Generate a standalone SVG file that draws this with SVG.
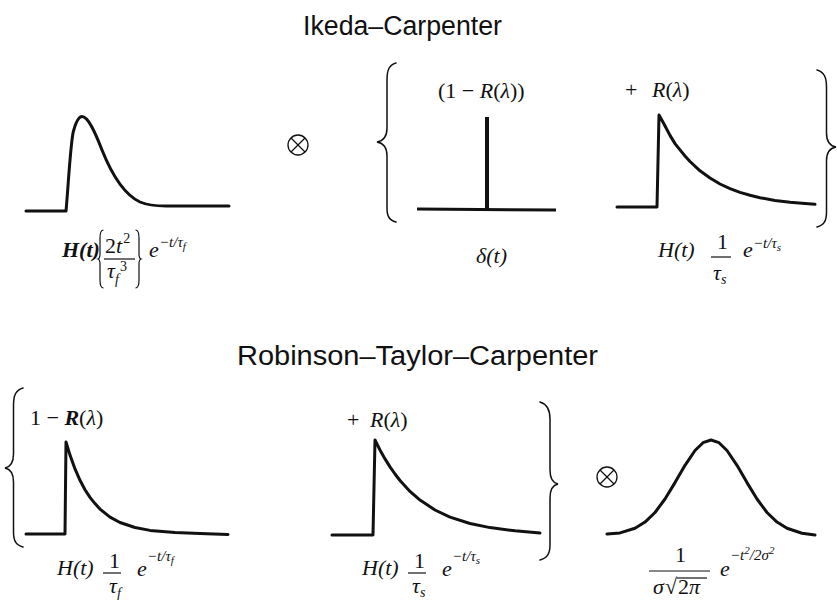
<svg xmlns="http://www.w3.org/2000/svg" width="837" height="600" viewBox="0 0 837 600">
<style>
.title{font-family:"Liberation Sans",Arial,sans-serif;font-size:27px;fill:#111}
.m{font-family:"Liberation Serif","Times New Roman",serif;font-size:22px;fill:#111}
.i{font-style:italic}
.b{font-weight:bold}
.s{font-size:15px}
.ss{font-size:11px}
.sub{font-size:14px}
.curve{fill:none;stroke:#111;stroke-width:3;stroke-linejoin:round;stroke-linecap:round}
.brace{fill:none;stroke:#111;stroke-width:1.5;stroke-linecap:round}
.thin{fill:none;stroke:#111;stroke-width:1.2}
.op{fill:none;stroke:#111;stroke-width:1.3}
</style>
<rect width="837" height="600" fill="#fff"/>

<text class="title" x="303" y="35" textLength="199" lengthAdjust="spacingAndGlyphs">Ikeda–Carpenter</text>
<text class="title" x="237" y="365" textLength="361" lengthAdjust="spacingAndGlyphs">Robinson–Taylor–Carpenter</text>

<g id="ic-fast">
<path class="curve" d="M26,211 L66,211 C68,190 70,150 73,133 C76,121 79,116.5 82,116.5 C88,116.5 95,132 102,150 C112,175 125,195 140,202 C148,205.5 156,206 166,206 L229,206"/>
<text class="m i b" x="62" y="257">H(t)</text>
<path class="thin" d="M103.5,230 C100.5,230 100,233 100,238 L100,254 C100,257 99.5,258.5 98,259 C99.5,259.5 100,261 100,264 L100,280 C100,285 100.5,288 103.5,288"/>
<path class="thin" d="M135.5,230 C138.5,230 139,233 139,238 L139,254 C139,257 139.5,258.5 141,259 C139.5,259.5 139,261 139,264 L139,280 C139,285 138.5,288 135.5,288"/>
<text class="m" x="105" y="253">2<tspan class="i">t</tspan><tspan class="sub" dx="1" dy="-10">2</tspan></text>
<line class="thin" x1="104" y1="259" x2="135" y2="259"/>
<text class="m i" x="107" y="278">τ<tspan class="sub" dy="6">f</tspan></text>
<text class="m sub" x="120" y="271">3</text>
<text class="m i" x="149" y="257">e</text>
<text class="m i s" x="159" y="247">−t/τ<tspan class="ss" dy="3">f</tspan></text>
</g>

<g id="op-top">
<circle class="op" cx="298" cy="145" r="10"/>
<line class="op" x1="291" y1="138" x2="305" y2="152"/>
<line class="op" x1="305" y1="138" x2="291" y2="152"/>
</g>

<g id="brace-top-left">
<path class="brace" d="M396,63 C389,65 387,70 387,80 L387,128 C387,137 383,141 377,142 C383,143 387,147 387,156 L387,208 C387,216 389,220 396,222"/>
</g>

<g id="ic-delta">
<text class="m" x="438" y="98" font-size="23">(1 − <tspan class="i">R</tspan>(<tspan class="i">λ</tspan>))</text>
<line x1="417" y1="209" x2="556" y2="210" stroke="#111" stroke-width="3"/>
<line x1="487" y1="117" x2="487" y2="209" stroke="#111" stroke-width="4"/>
<text class="m i" x="476" y="263" font-size="23">δ(t)</text>
</g>

<g id="ic-slow">
<text class="m" x="625" y="97" font-size="23">+</text>
<text class="m" x="652" y="97" font-size="23"><tspan class="i">R</tspan>(<tspan class="i">λ</tspan>)</text>
<polyline class="curve" points="617,207 657,207 659,115 664,124 670,135.4 675,143.6 680,149.9 685,156 690,161.5 700,170.8 710,178 720,184 730,188.6 740,192.4 750,195.3 760,197.7 775,200.4 790,202.3 805,203.6 815,204.3"/>
<text class="m i" x="658" y="257">H(t)</text>
<text class="m" x="717" y="249">1</text>
<line class="thin" x1="711" y1="257" x2="731" y2="257"/>
<text class="m i" x="713" y="280">τ<tspan class="sub" dy="4">s</tspan></text>
<text class="m i" x="743" y="257">e</text>
<text class="m i s" x="753" y="248">−t/τ<tspan class="ss" dy="3">s</tspan></text>
</g>

<g id="brace-top-right">
<path class="brace" d="M817,70 C824,72 826.5,77 826.5,87 L826.5,133 C826.5,142 830,146 836,147 C830,148 826.5,152 826.5,161 L826.5,212 C826.5,221 824,225 817,227"/>
</g>

<g id="brace-bottom-left">
<path class="brace" d="M23,388 C16,390 13.5,395 13.5,405 L13.5,454 C13.5,463 10,467 5,468 C10,469 13.5,473 13.5,482 L13.5,532 C13.5,541 16,545 23,547"/>
</g>

<g id="rtc-fast">
<text class="m" x="30" y="425">1 − <tspan class="i b">R</tspan>(<tspan class="i">λ</tspan>)</text>
<polyline class="curve" points="26,534 65,534 66,442 70,455.1 75,468.9 80,480.3 85,489.7 90,497.4 95,503.6 100,509.1 110,517.1 120,522.5 135,527.5 150,530.4 175,532.6 200,533.6 228,534.5"/>
<text class="m i" x="57" y="575">H(t)</text>
<text class="m" x="109" y="568">1</text>
<line class="thin" x1="103" y1="573" x2="121" y2="573"/>
<text class="m i" x="109" y="593">τ<tspan class="sub" dy="5">f</tspan></text>
<text class="m i" x="137" y="576">e</text>
<text class="m i s" x="147" y="561">−t/τ<tspan class="ss" dy="3">f</tspan></text>
</g>

<g id="rtc-slow">
<text class="m" x="347" y="427">+</text>
<text class="m" x="370" y="427"><tspan class="i">R</tspan>(<tspan class="i">λ</tspan>)</text>
<polyline class="curve" points="332,535 373,535 375,440 380,450 385,458.9 390,466.9 395,474 400,480.5 410,491.4 420,500.1 435,510 450,517.1 470,523.5 490,527.6 515,530.8 540,533"/>
<text class="m i" x="362" y="575">H(t)</text>
<text class="m" x="414" y="568">1</text>
<line class="thin" x1="408" y1="573" x2="426" y2="573"/>
<text class="m i" x="412" y="593">τ<tspan class="sub" dy="4">s</tspan></text>
<text class="m i" x="442" y="576">e</text>
<text class="m i s" x="452" y="561">−t/τ<tspan class="ss" dy="3">s</tspan></text>
</g>

<g id="brace-bottom-right">
<path class="brace" d="M540,402 C547,404 550,409 550,419 L550,470 C550,479 553,483 558,484 C553,485 550,489 550,498 L550,545 C550,554 547,558 540,560"/>
</g>

<g id="op-bottom">
<circle class="op" cx="607" cy="477" r="10"/>
<line class="op" x1="600" y1="470" x2="614" y2="484"/>
<line class="op" x1="614" y1="470" x2="600" y2="484"/>
</g>

<g id="rtc-gauss">
<polyline class="curve" points="607,534 620,532.9 635,528.3 645,522.1 655,512.5 665,499 675,482.6 685,465.3 695,450.5 703,442.7 711,440 719,442.7 727,450.5 737,465.3 747,482.6 757,499 767,512.5 777,522.1 787,528.3 802,533.2 815,535"/>
<text class="m" x="675" y="562">1</text>
<line class="thin" x1="649" y1="571" x2="710" y2="571"/>
<text class="m i" x="653" y="594">σ</text>
<text class="m" x="665" y="594">√</text>
<line class="thin" x1="677" y1="578" x2="707" y2="578"/>
<text class="m" x="678" y="594">2<tspan class="i">π</tspan></text>
<text class="m i" x="720" y="576">e</text>
<text class="m i s" x="730" y="560">−t<tspan class="ss" dy="-6">2</tspan><tspan dy="6">/2σ</tspan><tspan class="ss" dy="-6">2</tspan></text>
</g>
</svg>
